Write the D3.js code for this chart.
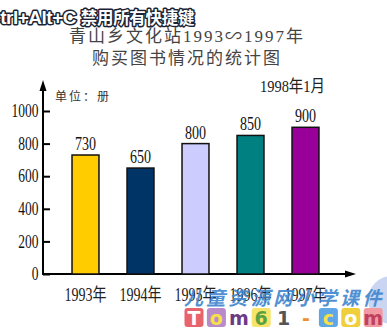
<!DOCTYPE html>
<html><head><meta charset="utf-8">
<script src="https://cdn.jsdelivr.net/npm/d3@7"></script>
<style>body{margin:0;background:#fff;}svg{display:block;}</style>
</head><body>
<svg id="c" width="387" height="332"></svg>
<script>
const years = ["1993年","1994年","1995年","1996年","1997年"];
const books = [730, 650, 800, 850, 900];
const barColors = ["#FFCC00","#003366","#CCCCFF","#008080","#990099"];
const yTicks = [0, 200, 400, 600, 800, 1000];
const titleLines = ["青山乡文化站1993∽1997年", "购买图书情况的统计图"];
const dateText = "1998年1月";
const unitText = "单位：册";
const wmLetters = ["T","o","m","6","1","-","c","o","m"];
const wmTiles = ["#e8646c","#b98ac9",null,"#f7e46a",null,null,"#5fa6e6","#f0cf3c","#f19aa2"];
const wmInk = ["#fff","#f6e04a","#6b3a86","#5aa040","#555","#f0902c","#f6e04a","#fff","#c04060"];

const svg = d3.select("#c");
const serif = "'Liberation Serif','Noto Sans CJK SC',serif";

const x = d3.scaleBand().domain(years).range([58, 333]).paddingInner(0.51).paddingOuter(0.255);
const y = d3.scaleLinear().domain([0, 1000]).range([274, 111]);
const x0 = 43;

// title
svg.selectAll("text.title").data(titleLines).join("text")
  .attr("class","title")
  .attr("x", 187).attr("y", (d,i)=> i===0 ? 42 : 64)
  .attr("text-anchor","middle")
  .attr("font-family", serif).attr("font-size", 17)
  .attr("letter-spacing", 2)
  .attr("fill","#444").text(d=>d);

svg.append("text").attr("x", 260).attr("y", 92)
  .attr("font-family", serif).attr("font-size", 17).attr("fill","#222")
  .attr("transform","translate(260,0) scale(0.85,1) translate(-260,0)")
  .text(dateText);

svg.append("text").attr("x", 55).attr("y", 101)
  .attr("font-family","'Noto Sans CJK SC',sans-serif").attr("font-size", 12)
  .attr("letter-spacing", 2).attr("fill","#333").text(unitText);

// y axis
const yAxis = d3.axisLeft(y).tickValues(yTicks).tickFormat(d3.format("d")).tickSize(-7).tickPadding(6);
const gy = svg.append("g").attr("transform", `translate(${x0},0)`).call(yAxis);
gy.select(".domain").remove();
gy.selectAll(".tick line").attr("stroke","#000").attr("stroke-width",2);
gy.selectAll(".tick text").attr("font-family", serif).attr("font-size", 18)
  .attr("fill","#111").attr("transform","scale(0.75,1)");

// axis lines with arrows
const yTop = y(1000) - 31;
svg.append("line").attr("x1",x0).attr("x2",x0).attr("y1",y(0)+1).attr("y2",yTop+6)
  .attr("stroke","#000").attr("stroke-width",2);
svg.append("path").attr("d",`M${x0},${yTop} L${x0-3.5},${yTop+11} L${x0+3.5},${yTop+11} Z`).attr("fill","#000");
const xEnd = 356;
svg.append("line").attr("x1",x0).attr("x2",xEnd-6).attr("y1",y(0)).attr("y2",y(0))
  .attr("stroke","#000").attr("stroke-width",2);
svg.append("path").attr("d",`M${xEnd},${y(0)} L${xEnd-11},${y(0)-3.5} L${xEnd-11},${y(0)+3.5} Z`).attr("fill","#000");

// bars
svg.selectAll("rect.bar").data(books).join("rect").attr("class","bar")
  .attr("x",(d,i)=>x(years[i])).attr("width",x.bandwidth())
  .attr("y",d=>y(d)).attr("height",d=>y(0)-y(d))
  .attr("fill",(d,i)=>barColors[i]).attr("stroke","#111").attr("stroke-width",1.5);

// value labels
svg.selectAll("text.val").data(books).join("text").attr("class","val")
  .attr("text-anchor","middle")
  .attr("transform",(d,i)=>`translate(${x(years[i])+x.bandwidth()/2},${y(d)-5}) scale(0.78,1)`)
  .attr("font-family", serif).attr("font-size", 18).attr("fill","#111").text(d=>d);

// x labels
svg.selectAll("text.xl").data(years).join("text").attr("class","xl")
  .attr("text-anchor","middle")
  .attr("transform",d=>`translate(${x(d)+x.bandwidth()/2},301) scale(0.78,1)`)
  .attr("font-family", serif).attr("font-size", 18).attr("fill","#222").text(d=>d);

// overlay hint text
const hint = svg.append("text").attr("x",-13).attr("y",24)
  .attr("font-weight","bold").attr("fill","#fff").attr("stroke","#1a2436").attr("stroke-width",3)
  .attr("paint-order","stroke").attr("stroke-linejoin","round");
hint.append("tspan").attr("font-family","'Liberation Sans',sans-serif").attr("font-size",19).attr("letter-spacing",-0.5).text("Ctrl+Alt+C ");
hint.append("tspan").attr("font-family","'Noto Sans CJK SC',sans-serif").attr("font-size",16.5).attr("letter-spacing",-0.3).text("禁用所有快捷键");

// watermark
svg.append("circle").attr("cx",392).attr("cy",300).attr("r",24).attr("fill","#9fb2e6").attr("opacity",0.55);
svg.append("text").attr("x",184).attr("y",305)
  .attr("font-family","'Noto Sans CJK SC',sans-serif").attr("font-weight","bold").attr("font-style","italic")
  .attr("font-size",19).attr("letter-spacing",3.3).attr("fill","#3f86cf").attr("opacity",0.9)
  .text("儿童资源网小学课件");
const wm = svg.append("g");
wmLetters.forEach((ch,i)=>{
  const cx = 194 + i*22.4;
  if (wmTiles[i]) wm.append("rect").attr("x",cx-9.5).attr("y",308).attr("width",19).attr("height",19)
    .attr("rx",3).attr("fill",wmTiles[i]);
  wm.append("text").attr("x",cx).attr("y",324.5).attr("text-anchor","middle")
    .attr("font-family","'DejaVu Sans',sans-serif").attr("font-weight","bold").attr("font-size",19)
    .attr("fill",wmInk[i]).text(ch);
});
</script>
</body></html>
